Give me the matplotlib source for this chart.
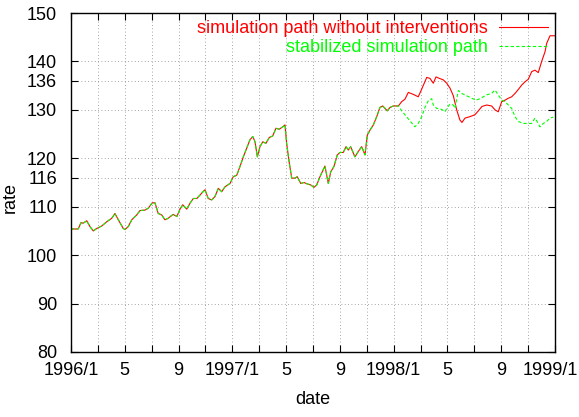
import numpy as np
import matplotlib
matplotlib.use('Agg')
import matplotlib.pyplot as plt
from matplotlib.transforms import ScaledTranslation

plt.rcParams['font.family'] = ['Liberation Sans', 'DejaVu Sans']

# months since 1996/1 and observed rate (common history)
hist_month = [0.00, 0.54, 0.74, 0.91, 1.17, 1.41, 1.66, 1.91, 2.28, 2.66, 3.03, 3.27,
              3.52, 3.89, 4.02, 4.26, 4.52, 4.89, 5.13, 5.50, 5.75, 6.05, 6.25, 6.49,
              6.75, 6.99, 7.22, 7.59, 7.88, 8.11, 8.31, 8.61, 8.85, 9.10, 9.37, 9.72,
              9.97, 10.21, 10.47, 10.71, 10.96, 11.21, 11.45, 11.83, 12.07, 12.33, 12.57,
              12.82, 13.07, 13.31, 13.52, 13.69, 13.86, 14.06, 14.26, 14.50, 14.75, 15.00,
              15.25, 15.49, 15.75, 15.92, 16.04, 16.24, 16.42, 16.66, 16.83, 17.09, 17.33,
              17.58, 17.83, 18.07, 18.28, 18.52, 18.89, 19.14, 19.32, 19.56, 19.81, 20.01,
              20.25, 20.46, 20.63, 20.80, 21.12, 21.37, 21.62, 21.87, 22.04, 22.24, 22.49,
              22.74, 22.98, 23.19, 23.36, 23.53, 23.73, 23.97, 24.35]
hist_rate = [105.4, 105.4, 106.7, 106.6, 107.1, 105.9, 105.0, 105.5, 106.0, 106.9, 107.6, 108.6,
             107.3, 105.5, 105.3, 105.9, 107.3, 108.3, 109.2, 109.3, 109.7, 110.8, 110.8, 108.6,
             108.3, 107.3, 107.6, 108.4, 108.0, 109.5, 110.4, 109.5, 110.7, 111.7, 111.7, 112.8,
             113.5, 111.7, 111.4, 112.1, 113.8, 113.1, 114.1, 114.8, 116.2, 116.5, 118.3,
             120.3, 122.1, 123.8, 124.5, 123.4, 120.3, 122.4, 123.4, 123.1, 124.3, 124.6,
             126.2, 126.0, 126.5, 126.9, 123.1, 119.0, 115.9, 115.9, 116.2, 114.8, 115.0,
             114.7, 114.5, 114.0, 114.5, 116.2, 118.4, 114.8, 117.2, 118.3, 120.7, 121.2,
             121.2, 122.4, 121.7, 122.4, 120.3, 121.4, 122.4, 120.7, 124.8, 125.8, 126.9,
             128.6, 130.5, 130.8, 130.3, 129.8, 130.5, 130.8, 130.8]

# simulation without interventions
free_month = [24.60, 24.84, 25.09, 25.46, 25.83, 26.09, 26.46, 26.70, 26.95, 27.15, 27.40,
              27.69, 27.95, 28.19, 28.44, 28.69, 28.93, 29.08, 29.31, 29.68, 30.05, 30.30,
              30.57, 30.92, 31.29, 31.54, 31.78, 32.04, 32.28, 32.53, 32.78, 33.03, 33.27,
              33.52, 33.77, 34.01, 34.27, 34.51, 34.76, 35.01, 35.26, 35.38, 35.63, 36.00]
free_rate = [131.7, 132.2, 133.6, 133.2, 132.7, 134.3, 136.7, 136.5, 135.5, 136.8, 136.5,
             136.2, 135.5, 134.5, 132.9, 130.0, 127.9, 127.4, 128.3, 128.6, 129.0, 129.8,
             130.7, 131.0, 130.8, 130.0, 129.6, 131.7, 132.0, 132.4, 132.7, 133.4, 134.2,
             135.1, 135.8, 136.3, 137.9, 138.2, 137.7, 140.0, 142.0, 143.7, 145.3, 145.3]

# stabilized simulation
stab_month = [24.60, 24.84, 25.21, 25.58, 25.83, 26.09, 26.33, 26.58, 26.83, 26.95, 27.20,
              27.57, 27.82, 27.95, 28.19, 28.44, 28.56, 28.81, 29.06, 29.43, 29.81, 30.12,
              30.42, 30.92, 31.29, 31.54, 31.78, 32.04, 32.28, 32.78, 33.03, 33.27, 33.65,
              34.01, 34.27, 34.51, 34.76, 34.88, 35.13, 35.38, 35.63, 35.87]
stab_rate = [129.8, 129.0, 127.8, 126.5, 127.2, 128.6, 130.5, 131.9, 132.3, 131.0, 130.3,
             130.1, 129.6, 130.3, 131.2, 131.0, 130.3, 134.0, 133.4, 132.9, 132.4, 132.0,
             132.3, 133.1, 133.4, 134.1, 133.1, 132.0, 131.7, 130.3, 128.6, 127.6, 127.2,
             127.2, 127.2, 128.3, 127.2, 126.5, 127.2, 127.6, 128.3, 128.5]

y_ticks = [80, 90, 100, 110, 116, 120, 130, 136, 140, 150]
x_ticks = list(range(0, 37, 2))
x_labels = {0: '1996/1', 4: '5', 8: '9', 12: '1997/1', 16: '5', 20: '9',
            24: '1998/1', 28: '5', 32: '9', 36: '1999/1'}

fig = plt.figure(figsize=(5.79, 4.17), dpi=100)
ax = fig.add_axes([0.1226, 0.1559, 0.8359, 0.8129])

ax.plot(hist_month + free_month, hist_rate + free_rate, color='#ff0000', lw=0.8,
        label='simulation path without interventions')
ax.plot(hist_month + stab_month, hist_rate + stab_rate, color='#00ff00', lw=0.8,
        ls=(0, (3, 2)), label='stabilized simulation path')

ax.set_xlim(0, 36)
ax.set_ylim(80, 150)
ax.set_xticks(x_ticks)
ax.set_xticklabels([x_labels.get(t, '') for t in x_ticks])
ax.set_yticks(y_ticks)
ax.tick_params(direction='in', length=5, width=0.8, top=True, right=True,
               labelsize=13, colors='black')
ax.tick_params(axis='y', pad=10)
ax.tick_params(axis='x', pad=7)
ax.grid(True, ls=(0, (1, 3)), color='#888888', lw=0.6)
for s in ax.spines.values():
    s.set_linewidth(1.0)

# last date label sits right at the figure edge, nudge it in a little
last = ax.get_xticklabels()[-1]
last.set_transform(last.get_transform() + ScaledTranslation(-3 / 72, 0, fig.dpi_scale_trans))

ax.set_xlabel('date', fontsize=13, labelpad=9)
fig.text(10 / 579, 1 - 198 / 417, 'rate', rotation=90, fontsize=13,
         ha='center', va='center')

leg = ax.legend(loc='upper right', frameon=False, markerfirst=False, fontsize=13,
                labelcolor='linecolor', handlelength=2.7, borderaxespad=0.1,
                labelspacing=0.1, handletextpad=0.6, borderpad=0.3)

fig.savefig('out.png', dpi=100)
